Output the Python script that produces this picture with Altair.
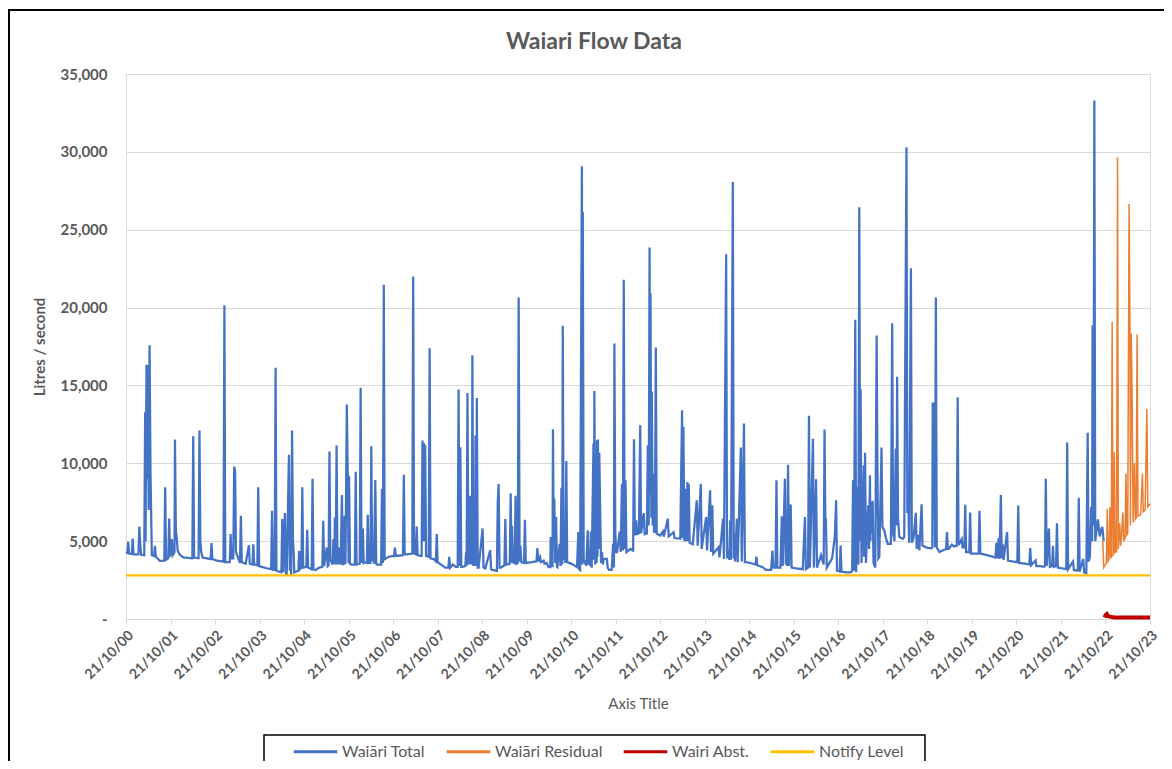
import altair as alt
import pandas as pd

# ---------------- data (t = years after 21/10/00, value = litres / second) ----------------
tick_years = list(range(0, 24))

total_00_04 = [
    [0.00, 4300], [0.03, 4250], [0.05, 4960], [0.07, 4200], [0.13, 4180], [0.15, 5170], [0.17, 4150],
    [0.28, 4150], [0.30, 5940], [0.32, 4800], [0.34, 4120], [0.41, 4100], [0.43, 13280], [0.44, 5000],
    [0.46, 16330], [0.47, 9000], [0.49, 16300], [0.51, 7000], [0.53, 17575], [0.55, 9485], [0.58, 4100],
    [0.63, 4050], [0.65, 4700], [0.67, 4000], [0.76, 3730], [0.86, 3750], [0.88, 8455], [0.90, 3800],
    [0.95, 3900], [0.97, 6460], [0.99, 4000], [1.03, 5130], [1.05, 4100], [1.09, 4300], [1.10, 11520],
    [1.12, 5665], [1.14, 5200], [1.16, 4400], [1.21, 4120], [1.29, 3950], [1.49, 3900], [1.51, 11740],
    [1.53, 3950], [1.63, 3900], [1.65, 12100], [1.67, 5020], [1.69, 4300], [1.72, 3950], [1.90, 3850],
    [1.92, 4870], [1.94, 3850], [2.04, 3750], [2.19, 3680], [2.21, 20150], [2.23, 3650], [2.33, 3650],
    [2.35, 5450], [2.37, 3900], [2.41, 3900], [2.43, 9785], [2.45, 9500], [2.47, 4300], [2.56, 3600],
    [2.58, 6630], [2.60, 3650], [2.69, 3550], [2.76, 4740], [2.78, 3550], [2.84, 3500], [2.86, 4800],
    [2.88, 3500], [2.95, 3450], [2.97, 8455], [2.99, 3400], [3.16, 3260], [3.26, 3200], [3.28, 6950],
    [3.30, 3150], [3.34, 3150], [3.36, 16140], [3.38, 3100], [3.49, 3000], [3.51, 6420], [3.53, 3000],
    [3.57, 6800], [3.59, 2950], [3.61, 2900], [3.66, 10540], [3.68, 3100], [3.70, 6000], [3.71, 2830],
    [3.73, 12100], [3.75, 5000], [3.76, 4700], [3.78, 3000], [3.87, 3100], [3.89, 4380], [3.91, 3200],
    [3.94, 3300], [3.96, 8455], [3.98, 3300], [4.05, 3350], [4.07, 5730], [4.09, 3300], [4.17, 3200],
    [4.19, 9000], [4.21, 3200], [4.25, 3130], [4.34, 3300], [4.41, 3350], [4.43, 6310], [4.45, 3400],
    [4.51, 4590], [4.53, 3400], [4.55, 3450], [4.57, 10750], [4.59, 3800], [4.64, 3500], [4.66, 5130],
    [4.68, 3500], [4.69, 6525], [4.71, 3500],
]

total_05_09 = [
    [4.73, 11140], [4.75, 3500], [4.76, 4590], [4.78, 3500], [4.80, 4590], [4.82, 3500], [4.85, 7960],
    [4.87, 3520], [4.90, 3550], [4.91, 6630], [4.93, 3550], [4.96, 13780], [4.98, 9200], [5.00, 3600],
    [5.01, 9200], [5.03, 3550], [5.07, 3500], [5.14, 3500], [5.16, 9460], [5.18, 3500], [5.25, 3550],
    [5.27, 14850], [5.29, 3600], [5.32, 5815], [5.34, 3600], [5.36, 3650], [5.41, 3600], [5.43, 6700],
    [5.45, 3600], [5.49, 3600], [5.51, 11100], [5.53, 3700], [5.55, 4700], [5.57, 3550], [5.60, 8930],
    [5.62, 3550], [5.64, 3500], [5.73, 3500], [5.75, 8350], [5.77, 3600], [5.79, 21460], [5.81, 3840],
    [5.90, 4000], [6.02, 4050], [6.04, 4590], [6.06, 4050], [6.22, 4100], [6.24, 9270], [6.26, 4150],
    [6.30, 4150], [6.43, 4200], [6.45, 22000], [6.47, 4200], [6.51, 4150], [6.53, 5940], [6.55, 4100],
    [6.61, 4050], [6.64, 4050], [6.66, 11460], [6.67, 5000], [6.69, 11310], [6.70, 5000], [6.72, 11180],
    [6.74, 4050], [6.80, 4000], [6.82, 17380], [6.84, 3900], [6.91, 3850], [6.96, 3700], [6.98, 5450],
    [7.00, 3650], [7.17, 3300], [7.24, 3300], [7.26, 3990], [7.28, 3300], [7.34, 3500], [7.41, 3350],
    [7.45, 3350], [7.47, 14740], [7.49, 3400], [7.51, 11030], [7.53, 3350], [7.55, 3350], [7.62, 3400],
    [7.64, 4300], [7.65, 3400], [7.67, 14510], [7.69, 3500], [7.72, 7920], [7.74, 3500], [7.75, 7920],
    [7.77, 3500], [7.78, 16930], [7.80, 3400], [7.82, 6800], [7.84, 3400], [7.85, 11780], [7.87, 3400],
    [7.88, 14200], [7.90, 3300], [7.92, 3300], [8.01, 5815], [8.03, 3300], [8.07, 3250], [8.18, 4420],
    [8.20, 3200], [8.22, 3150], [8.33, 3090], [8.35, 7490], [8.37, 8670], [8.39, 3300], [8.42, 3300],
    [8.50, 3450], [8.52, 6420], [8.54, 3500], [8.56, 3500], [8.62, 3550], [8.64, 8070], [8.66, 3600],
    [8.67, 5990], [8.69, 3650], [8.73, 3600], [8.75, 7920], [8.77, 3550], [8.80, 3600], [8.82, 20640],
    [8.84, 3700], [8.86, 4700], [8.88, 3650], [8.94, 3600], [8.96, 6370], [8.98, 3600], [9.12, 3650],
]

total_09_13 = [
    [9.22, 3700], [9.24, 4550], [9.26, 3700], [9.30, 3970], [9.32, 3650], [9.38, 3750], [9.40, 3550],
    [9.45, 3600], [9.49, 3330], [9.53, 3330], [9.54, 5260], [9.56, 3400], [9.58, 3400], [9.59, 12190],
    [9.60, 7660], [9.62, 7660], [9.64, 3600], [9.66, 6545], [9.68, 3350], [9.69, 3330], [9.74, 4830],
    [9.76, 3400], [9.78, 8430], [9.80, 3500], [9.81, 18840], [9.83, 3800], [9.85, 4300], [9.87, 3600],
    [9.89, 10150], [9.91, 3650], [10.01, 3540], [10.13, 3330], [10.16, 5580], [10.18, 3200],
    [10.20, 3150], [10.24, 29080], [10.25, 3500], [10.26, 26140], [10.28, 3800], [10.34, 3420],
    [10.37, 5690], [10.39, 3500], [10.41, 3900], [10.43, 3400], [10.44, 5620], [10.46, 3300],
    [10.50, 11270], [10.51, 3800], [10.52, 14640], [10.54, 3500], [10.55, 4300], [10.57, 3600],
    [10.58, 11480], [10.59, 4000], [10.60, 11520], [10.62, 4500], [10.63, 10670], [10.65, 7080],
    [10.67, 3600], [10.69, 4300], [10.71, 3500], [10.73, 3860], [10.80, 3860], [10.82, 3300],
    [10.85, 3150], [10.91, 3150], [10.94, 4830], [10.96, 3300], [10.97, 17700], [10.99, 5620],
    [11.01, 4300], [11.03, 4290], [11.09, 5620], [11.11, 4300], [11.14, 8690], [11.16, 4400],
    [11.18, 21780], [11.20, 4500], [11.22, 8910], [11.24, 4290], [11.33, 4500], [11.39, 4400],
    [11.41, 11550], [11.43, 5365], [11.46, 6330], [11.48, 5400], [11.50, 5620], [11.52, 5450],
    [11.55, 12450], [11.57, 5500], [11.63, 6800], [11.65, 5450], [11.70, 5500], [11.72, 11160],
    [11.74, 6000], [11.76, 23860], [11.77, 8000], [11.78, 20920], [11.80, 6500], [11.81, 14590],
    [11.83, 6000], [11.84, 9330], [11.86, 5600], [11.88, 5600], [11.90, 17430], [11.92, 5470],
    [12.00, 5360], [12.06, 5620], [12.08, 5300], [12.17, 6440], [12.19, 5300], [12.30, 5580],
    [12.32, 5200], [12.45, 5150], [12.49, 13410], [12.50, 5200], [12.52, 12340], [12.54, 5000],
    [12.58, 8370], [12.59, 5000], [12.61, 8800], [12.62, 5000], [12.64, 8690], [12.66, 4900],
    [12.73, 4800], [12.82, 7620], [12.84, 4700], [12.91, 8690], [12.93, 4500], [13.03, 6545],
    [13.05, 4400], [13.12, 8260], [13.14, 4300], [13.17, 7300], [13.19, 4200], [13.31, 4610],
    [13.33, 3950], [13.41, 6440], [13.43, 3850], [13.48, 23430], [13.50, 3900], [13.52, 4400],
    [13.55, 3800], [13.57, 6330], [13.59, 3800], [13.63, 28070], [13.65, 3900], [13.66, 5470],
    [13.68, 3700], [13.72, 6440], [13.74, 3650], [13.81, 11010], [13.83, 3700], [13.88, 12550],
    [13.90, 3650],
]

total_14_18 = [
    [13.94, 3650], [14.04, 3580], [14.14, 3500], [14.16, 4010], [14.18, 3450], [14.30, 3330],
    [14.37, 3150], [14.49, 3150], [14.52, 4400], [14.54, 3300], [14.59, 3300], [14.61, 8910],
    [14.63, 3300], [14.70, 3300], [14.73, 6590], [14.75, 3400], [14.80, 9010], [14.82, 3500],
    [14.83, 5260], [14.85, 3400], [14.87, 9910], [14.89, 3400], [14.93, 7360], [14.95, 3300],
    [15.05, 3250], [15.20, 3200], [15.25, 6545], [15.27, 3200], [15.32, 3300], [15.34, 13050],
    [15.36, 3300], [15.43, 11570], [15.45, 3300], [15.50, 8970], [15.52, 3300], [15.61, 4100],
    [15.67, 3500], [15.69, 12170], [15.71, 5500], [15.72, 6450], [15.74, 3300], [15.86, 3900],
    [15.92, 5260], [15.95, 7620], [15.97, 3100], [16.03, 3050], [16.05, 4720], [16.07, 3050],
    [16.17, 3000], [16.28, 3000], [16.31, 3100], [16.33, 8910], [16.35, 3100], [16.38, 19210],
    [16.40, 3000], [16.43, 8500], [16.45, 3500], [16.47, 26440], [16.49, 5000], [16.50, 14760],
    [16.52, 3600], [16.57, 9870], [16.58, 4000], [16.60, 10670], [16.62, 3600], [16.67, 7300],
    [16.69, 4500], [16.71, 9230], [16.72, 5000], [16.74, 7510], [16.76, 5500], [16.77, 7600],
    [16.79, 3600], [16.83, 3300], [16.86, 18200], [16.88, 8900], [16.90, 3900], [16.92, 4000],
    [16.97, 11010], [16.99, 5900], [17.03, 5700], [17.07, 5200], [17.11, 4830], [17.18, 4830],
    [17.21, 18990], [17.23, 5500], [17.26, 5000], [17.29, 10950], [17.31, 6000], [17.32, 15560],
    [17.34, 6500], [17.37, 5260], [17.45, 5150], [17.48, 5260], [17.53, 30300], [17.55, 6800],
    [17.57, 7900], [17.59, 4900], [17.63, 22530], [17.65, 4900], [17.69, 5200], [17.74, 6820],
    [17.76, 4500], [17.80, 5400], [17.82, 4400], [17.87, 7360], [17.89, 4720], [17.97, 4600],
    [18.04, 4550], [18.10, 4550], [18.11, 4600], [18.12, 13900], [18.13, 8000], [18.15, 13900],
    [18.17, 4600], [18.19, 20640], [18.21, 4600], [18.27, 4300], [18.34, 4400], [18.42, 4500],
    [18.44, 5580], [18.46, 4500], [18.48, 4500],
]

total_18_22 = [
    [18.55, 4780], [18.60, 4650], [18.62, 4700], [18.66, 4700], [18.68, 14240], [18.70, 4750],
    [18.77, 5130], [18.79, 4600], [18.83, 4600], [18.85, 7330], [18.87, 4300], [18.94, 4300],
    [18.96, 6830], [18.98, 4200], [19.04, 4200], [19.15, 4200], [19.17, 6950], [19.19, 4200],
    [19.34, 4100], [19.53, 3950], [19.55, 4900], [19.57, 3900], [19.60, 5190], [19.62, 3850],
    [19.65, 7970], [19.67, 3900], [19.69, 4800], [19.71, 3800], [19.79, 5580], [19.81, 3750],
    [19.90, 3700], [20.02, 3650], [20.04, 7290], [20.06, 3600], [20.20, 3550], [20.29, 3500],
    [20.31, 4560], [20.33, 3450], [20.43, 3760], [20.45, 3400], [20.54, 3400], [20.61, 3350],
    [20.64, 3400], [20.66, 9000], [20.68, 3400], [20.73, 5810], [20.75, 3350], [20.80, 3400],
    [20.82, 4700], [20.84, 3350], [20.89, 3400], [20.91, 6150], [20.93, 3300], [21.03, 3250],
    [21.12, 3200], [21.14, 11340], [21.16, 3200], [21.27, 3690], [21.29, 3150], [21.38, 3100],
    [21.40, 7790], [21.42, 3050], [21.50, 3870], [21.52, 3000], [21.57, 2960], [21.60, 11960],
    [21.62, 3700], [21.65, 4000], [21.68, 7200], [21.70, 5000], [21.71, 18860], [21.73, 6000],
    [21.75, 33300], [21.77, 5000], [21.80, 5700], [21.83, 6400], [21.87, 5300], [21.90, 5700],
    [21.93, 5920], [21.96, 5000],
]

residual = [
    [21.94, 5010], [21.96, 3300], [22.00, 3500], [22.02, 3600], [22.04, 7060], [22.06, 3700],
    [22.08, 3800], [22.10, 7180], [22.12, 3900], [22.13, 4000], [22.15, 19090], [22.17, 4100],
    [22.19, 4200], [22.20, 10710], [22.22, 4300], [22.25, 4300], [22.27, 29660], [22.29, 4500],
    [22.32, 6150], [22.34, 4700], [22.36, 5300], [22.39, 6830], [22.41, 5000], [22.44, 5200],
    [22.46, 9340], [22.48, 5400], [22.50, 5500], [22.53, 26650], [22.55, 18340], [22.56, 6000],
    [22.58, 18340], [22.60, 13900], [22.62, 6200], [22.65, 10020], [22.67, 6400], [22.69, 6500],
    [22.71, 18270], [22.73, 6600], [22.79, 6700], [22.83, 9340], [22.85, 6900], [22.89, 7000],
    [22.93, 13490], [22.95, 7200], [23.00, 7400],
]

abstraction = [
    [21.98, 100], [22.00, 250], [22.03, 320], [22.06, 180], [22.10, 150], [22.20, 100],
    [22.50, 90], [23.00, 90],
]

notify = [[0.0, 2800], [23.0, 2800]]

series_names = ["Waiāri Total", "Waiāri Residual", "Wairi Abst.", "Notify Level"]
series_colors = ["#4472C4", "#ED7D31", "#C00000", "#FFC000"]
series_widths = [2.25, 1.5, 4.0, 2.25]

# ---------------- build table ----------------
rows = []
for name, pts in [
    (series_names[0], total_00_04 + total_05_09 + total_09_13 + total_14_18 + total_18_22),
    (series_names[1], residual),
    (series_names[2], abstraction),
    (series_names[3], notify),
]:
    for t, v in pts:
        rows.append({"t": t, "v": v, "series": name})
df = pd.DataFrame(rows)

FONT = "Lato"
GREY = "#595959"

x_enc = alt.X(
    "t:Q",
    scale=alt.Scale(domain=[0, 23], nice=False, zero=False),
    axis=alt.Axis(
        values=tick_years,
        labelExpr="'21/10/' + (datum.value < 10 ? '0' : '') + datum.value",
        labelAngle=-45, labelOverlap=False,
        labelFont=FONT, labelFontSize=14, labelFontWeight="bold", labelColor=GREY,
        labelPadding=4,
        grid=False,
        domainColor="#D9D9D9", domainWidth=1,
        tickColor="#D9D9D9", tickSize=5,
        title="Axis Title", titleFont=FONT, titleFontSize=15, titleFontWeight="normal",
        titleColor=GREY, titlePadding=15,
    ),
)
y_enc = alt.Y(
    "v:Q",
    scale=alt.Scale(domain=[0, 35000], nice=False),
    axis=alt.Axis(
        values=[0, 5000, 10000, 15000, 20000, 25000, 30000, 35000],
        labelExpr="datum.value == 0 ? '-' : format(datum.value, ',')",
        labelFont=FONT, labelFontSize=15, labelFontWeight="bold", labelColor=GREY,
        labelPadding=19,
        ticks=False, domain=False,
        gridColor="#D9D9D9", gridWidth=1,
        title="Litres / second", titleFont=FONT, titleFontSize=15, titleFontWeight="bold",
        titleColor=GREY, titlePadding=12,
    ),
)
color_enc = alt.Color(
    "series:N",
    scale=alt.Scale(domain=series_names, range=series_colors),
    legend=alt.Legend(
        title=None, orient="none", direction="horizontal", columns=4,
        legendX=166, legendY=654,
        symbolType="stroke", symbolSize=1900, symbolStrokeWidth=3,
        columnPadding=14, labelOffset=3,
        labelFont=FONT, labelFontSize=16, labelColor=GREY, padding=0,
    ),
)

base = alt.Chart(df).encode(x=x_enc, y=y_enc, color=color_enc)
line_layers = [
    base.transform_filter(alt.datum.series == s).mark_line(strokeWidth=w)
    for s, w in zip(series_names, series_widths)
]

deco = pd.DataFrame({"k": [0]})
outer_left = alt.Chart(deco).mark_rule(color="black", strokeWidth=2).encode(
    x=alt.value(-117), y=alt.value(-64), y2=alt.value(700))
outer_top = alt.Chart(deco).mark_rule(color="black", strokeWidth=2).encode(
    x=alt.value(-118), x2=alt.value(1100), y=alt.value(-64))
legend_box = alt.Chart(deco).mark_rect(fillOpacity=0, stroke="black", strokeWidth=1.5).encode(
    x=alt.value(138), x2=alt.value(799), y=alt.value(661), y2=alt.value(720))
title_text = alt.Chart(deco).mark_text(
    text="Waiari Flow Data", font=FONT, fontSize=23, fontWeight="bold", color=GREY,
    align="center", baseline="alphabetic",
).encode(x=alt.value(468), y=alt.value(-25))

chart = alt.layer(outer_left, outer_top, legend_box, title_text, *line_layers).properties(
    width=1024, height=545,
    autosize=alt.AutoSizeParams(type="none"),
    padding={"left": 118, "top": 66, "right": 14, "bottom": 142},
).configure_view(stroke="black", strokeWidth=1.5).configure(background="white")

chart.save("out.html", embed_options={"renderer": "svg", "actions": False})
